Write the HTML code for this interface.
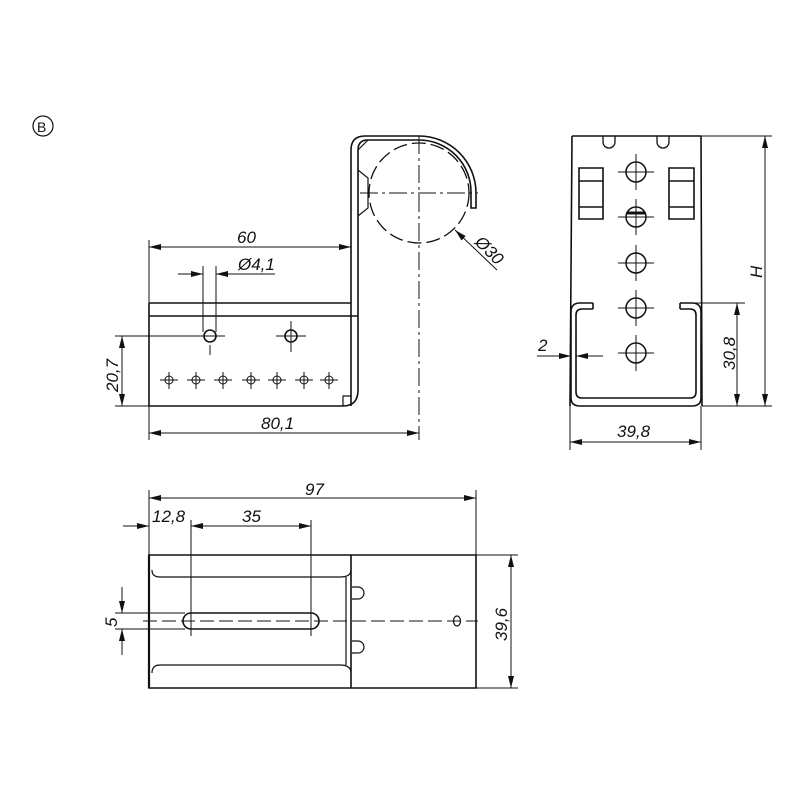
<!DOCTYPE html>
<html><head><meta charset="utf-8"><style>html,body{margin:0;padding:0;background:#fff}svg{display:block}text{font-family:"Liberation Sans",sans-serif;font-style:italic;font-size:17px;fill:#111}</style></head>
<body>
<svg width="800" height="800" viewBox="0 0 800 800" xmlns="http://www.w3.org/2000/svg">
<defs>
<marker id="a" viewBox="0 0 12 6" refX="12" refY="3" markerWidth="12" markerHeight="6" orient="auto-start-reverse" markerUnits="userSpaceOnUse"><path d="M0,0 L12,3 L0,6 z" fill="#111"/></marker>
</defs>
<g fill="none" stroke="#111" stroke-width="1.2">
<!-- B -->
<circle cx="43" cy="126" r="10"/>
</g>
<text x="37" y="132" style="font-style:normal;font-size:14px">B</text>

<!-- LEFT VIEW -->
<g fill="none" stroke="#111" stroke-width="1.6">
<path d="M149,303 H351 M149,316 H358 M149,303 V406 H343 Q358,406 358,390 V150 Q358,140 368,140 H419 A52,52 0 0 1 471,193 V208 H476 V193 A57,57 0 0 0 419,136 H365 Q351,136 351,150 V406"/>
<path d="M343,406 V396 H351 M358,150 L368,140 M358,170 L368,178 V208 L358,216" stroke-width="1.2"/>
<circle cx="210" cy="336" r="6"/><circle cx="291" cy="336" r="6"/>
</g>
<g fill="none" stroke="#111" stroke-width="1">
<circle cx="169" cy="380" r="4"/><circle cx="196" cy="380" r="4"/><circle cx="223" cy="380" r="4"/><circle cx="251" cy="380" r="4"/><circle cx="277" cy="380" r="4"/><circle cx="304" cy="380" r="4"/><circle cx="329" cy="380" r="4"/>
<path d="M160,380h18M187,380h18M214,380h18M242,380h18M268,380h18M295,380h18M320,380h18M169,372v17M196,372v17M223,372v17M251,372v17M277,372v17M304,372v17M329,372v17"/>
<path d="M200,336h25M210,345v10M276,336h30M291,321v31"/>
<circle cx="419" cy="193" r="50" stroke-dasharray="14,5" stroke-width="1.3"/>
<path d="M360,193 H478 M419,136 V440" stroke-dasharray="18,4,3,4"/>
<path d="M149,240 V440 M203,266 V332 M216,266 V332 M115,336 H204 M115,406 H149"/>
<path d="M149,247 H351" marker-start="url(#a)" marker-end="url(#a)"/>
<path d="M178,274 H203" marker-end="url(#a)"/><path d="M241,274 H216" marker-end="url(#a)"/><path d="M241,274 H275"/>
<path d="M122,336 V406" marker-start="url(#a)" marker-end="url(#a)"/>
<path d="M149,433 H419" marker-start="url(#a)" marker-end="url(#a)"/>
<path d="M497,270 L455,230" marker-end="url(#a)"/>
</g>
<text x="237" y="243">60</text>
<text x="238" y="270">Ø4,1</text>
<text x="261" y="429">80,1</text>
<text transform="translate(118,392) rotate(-90)">20,7</text>
<text transform="translate(474,243) rotate(45)">Ø30</text>

<!-- RIGHT VIEW -->
<g fill="none" stroke="#111" stroke-width="1.6">
<path d="M572,136 H701 M572,136 L570,406 M701,136 L702,406"/>
<path d="M593,303 H580 Q571,303 571,312 V398 Q571,406 580,406 H692 Q701,406 701,398 V312 Q701,303 692,303 H680 M593,309 H582 Q576,309 576,315 V392 Q576,398 582,398 H690 Q696,398 696,392 V315 Q696,309 690,309 H680 M593,303 V309 M680,303 V309"/>
<path d="M579,168 H603 V219 H579 Z M579,181 H603 M579,207 H603 M669,168 H694 V219 H669 Z M669,181 H694 M669,207 H694"/>
<path d="M603,136 V142 A6,6 0 0 0 615,142 V136 M657,136 V142 A6,6 0 0 0 669,142 V136" stroke-width="1.3"/>
<g stroke-width="1.5"><circle cx="636" cy="172" r="10"/><circle cx="636" cy="217" r="10"/><circle cx="636" cy="263" r="10"/><circle cx="636" cy="308" r="10"/><circle cx="636" cy="353" r="10"/></g>
<path d="M627,213 H645" stroke-width="3"/>
</g>
<g fill="none" stroke="#111" stroke-width="1">
<path d="M618,172h36M636,154v36M618,217h36M636,199v36M618,263h36M636,245v36M618,308h36M636,290v36M618,353h36M636,335v36"/>
<path d="M701,136 H772 M702,406 H772 M680,303 H745 M570,406 V450 M701,406 V450"/>
<path d="M765,136 V406" marker-start="url(#a)" marker-end="url(#a)"/>
<path d="M737,303 V406" marker-start="url(#a)" marker-end="url(#a)"/>
<path d="M570,442 H701" marker-start="url(#a)" marker-end="url(#a)"/>
<path d="M537,356 H571" marker-end="url(#a)"/><path d="M603,356 H576" marker-end="url(#a)"/>
</g>
<text x="538" y="351">2</text>
<text x="617" y="437">39,8</text>
<text transform="translate(762,278) rotate(-90)">H</text>
<text transform="translate(735,370) rotate(-90)">30,8</text>

<!-- BOTTOM VIEW -->
<g fill="none" stroke="#111" stroke-width="1.6">
<path d="M149,555 H476 V688 H149 Z M351,555 V688" />
<path d="M149,555 V688" stroke-width="2.2"/>
<path d="M152,570 Q152,577 160,577 H340 Q351,577 351,570 M152,673 Q152,665 160,665 H340 Q351,665 351,673 M346,577 V665" stroke-width="1.2"/>
<path d="M191,613 H311 A8,8 0 0 1 311,629 H191 A8,8 0 0 1 191,613 Z"/>
<path d="M352,587 H358 A5,5 0 0 1 358,599 H352 M352,641 H358 A5,5 0 0 1 358,653 H352" stroke-width="1.2"/>
<ellipse cx="457" cy="621" rx="3.5" ry="5" stroke-width="1.2"/>
</g>
<g fill="none" stroke="#111" stroke-width="1">
<path d="M143,621 H478" stroke-dasharray="14,5"/>
<path d="M149,490 V555 M476,490 V555 M191,520 V636 M311,520 V636 M476,555 H518 M476,688 H518 M115,613 H185 M115,629 H185"/>
<path d="M149,498 H476" marker-start="url(#a)" marker-end="url(#a)"/>
<path d="M123,526 H149" marker-end="url(#a)"/>
<path d="M191,526 H311" marker-start="url(#a)" marker-end="url(#a)"/>
<path d="M511,555 V688" marker-start="url(#a)" marker-end="url(#a)"/>
<path d="M122,587 V613" marker-end="url(#a)"/><path d="M122,655 V629" marker-end="url(#a)"/>
</g>
<text x="305" y="495">97</text>
<text x="152" y="522">12,8</text>
<text x="242" y="522">35</text>
<text transform="translate(117,627) rotate(-90)">5</text>
<text transform="translate(507,641) rotate(-90)">39,6</text>
</svg>
</body></html>
